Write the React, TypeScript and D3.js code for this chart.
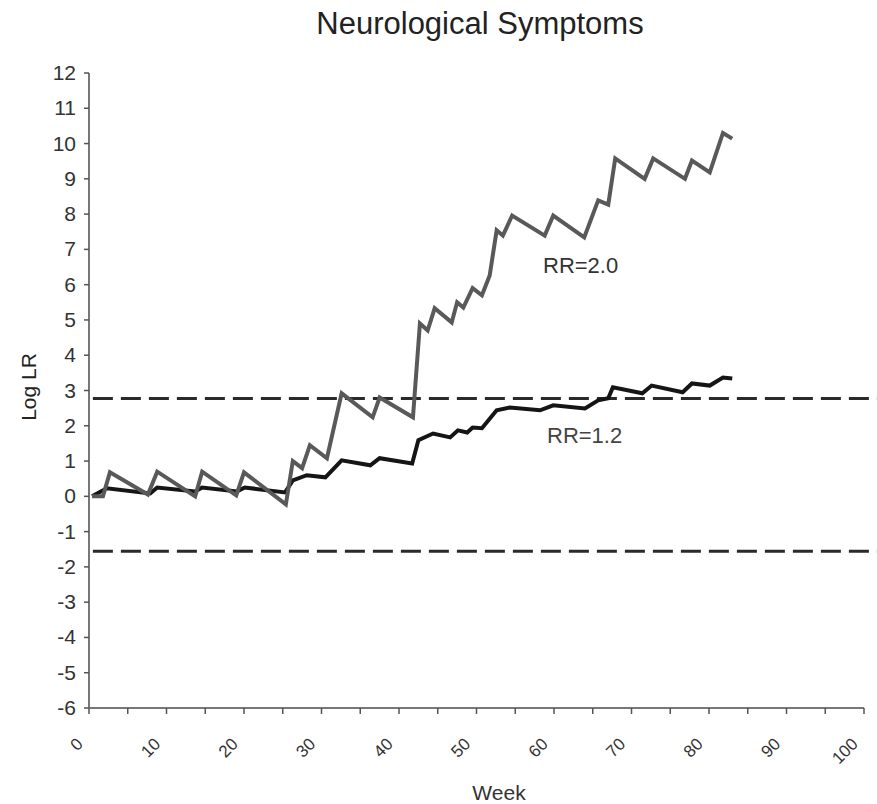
import React, { useRef, useEffect } from 'react';
import * as d3 from 'd3';

// RR=2.0 series (week, log LR)
const weeksRR20 = [0.4, 1.8, 2.7, 7.6, 8.8, 13.7, 14.6, 19.0, 20.0, 25.4, 26.3, 27.5, 28.5, 30.7, 32.6, 36.6, 37.5, 41.8, 42.7, 43.7, 44.6, 46.8, 47.5, 48.3, 49.5, 50.7, 51.7, 52.6, 53.4, 54.6, 58.8, 59.9, 63.9, 65.7, 67.0, 67.9, 71.7, 72.8, 76.9, 77.8, 80.1, 81.8, 83.0];
const valuesRR20 = [0, 0, 0.68, 0.05, 0.7, 0, 0.7, 0.03, 0.68, -0.23, 1.0, 0.8, 1.45, 1.08, 2.92, 2.24, 2.8, 2.24, 4.9, 4.7, 5.33, 4.93, 5.5, 5.35, 5.9, 5.7, 6.26, 7.54, 7.39, 7.96, 7.39, 7.96, 7.34, 8.39, 8.27, 9.58, 9.0, 9.58, 9.0, 9.52, 9.18, 10.3, 10.14];

// RR=1.2 series
const weeksRR12 = [0.4, 2.3, 7.9, 8.8, 13.7, 14.6, 19.1, 20.1, 25.3, 26.3, 28.1, 30.5, 32.6, 36.3, 37.5, 41.7, 42.5, 44.4, 46.6, 47.6, 48.8, 49.5, 50.7, 52.6, 54.3, 58.2, 59.9, 64.0, 65.7, 67.0, 67.6, 71.4, 72.6, 76.6, 77.8, 80.1, 81.8, 83.0];
const valuesRR12 = [0, 0.23, 0.08, 0.25, 0.14, 0.25, 0.14, 0.25, 0.11, 0.45, 0.6, 0.54, 1.02, 0.88, 1.08, 0.93, 1.59, 1.78, 1.67, 1.87, 1.81, 1.95, 1.93, 2.44, 2.52, 2.44, 2.58, 2.49, 2.72, 2.78, 3.09, 2.92, 3.14, 2.95, 3.2, 3.14, 3.37, 3.34];

// decision boundaries
const boundaries = [2.77, -1.56];

const yTicks = d3.range(-6, 13, 1);
const xTicks = d3.range(0, 101, 5);
const xLabels = d3.range(0, 101, 10);

export default function App() {
  const ref = useRef<SVGSVGElement>(null);
  const width = 877;
  const height = 804;

  useEffect(() => {
    const svg = d3.select(ref.current);
    svg.selectAll('*').remove();
    svg.attr('width', width).attr('height', height)
      .style('background', '#fff')
      .style('font-family', '"Liberation Sans", Arial, sans-serif');

    const x = d3.scaleLinear().domain([0, 100]).range([89, 864]);
    const y = d3.scaleLinear().domain([-6, 12]).range([708, 73]);
    const axisColor = '#777';

    // title
    svg.append('text')
      .attr('x', 480).attr('y', 34)
      .attr('text-anchor', 'middle')
      .attr('fill', '#222')
      .style('font-size', '31px')
      .text('Neurological Symptoms');

    //---------- y axis ----------//
    svg.append('line')
      .attr('x1', x(0)).attr('x2', x(0))
      .attr('y1', y(12)).attr('y2', y(-6))
      .attr('stroke', axisColor).attr('stroke-width', 2);

    svg.append('g').selectAll('line')
      .data(yTicks).join('line')
      .attr('x1', x(0) - 5).attr('x2', x(0))
      .attr('y1', d => y(d)).attr('y2', d => y(d))
      .attr('stroke', '#555').attr('stroke-width', 1.5);

    svg.append('g').selectAll('text')
      .data(yTicks).join('text')
      .attr('x', x(0) - 13)
      .attr('y', d => y(d) + 7)
      .attr('text-anchor', 'end')
      .attr('fill', '#333')
      .style('font-size', '21px')
      .text(d => d);

    svg.append('text')
      .attr('transform', `translate(36,${y(3.1)}) rotate(-90)`)
      .attr('text-anchor', 'middle')
      .attr('fill', '#222')
      .style('font-size', '21px')
      .text('Log LR');

    //---------- x axis ----------//
    svg.append('line')
      .attr('x1', x(0)).attr('x2', x(100))
      .attr('y1', y(-6)).attr('y2', y(-6))
      .attr('stroke', axisColor).attr('stroke-width', 2);

    svg.append('g').selectAll('line')
      .data(xTicks).join('line')
      .attr('x1', d => x(d)).attr('x2', d => x(d))
      .attr('y1', y(-6)).attr('y2', y(-6) + 6)
      .attr('stroke', '#555').attr('stroke-width', 1.5);

    svg.append('g').selectAll('text')
      .data(xLabels).join('text')
      .attr('transform', d => `translate(${x(d) - 5},${y(-6) + 37}) rotate(-45)`)
      .attr('text-anchor', 'end')
      .attr('fill', '#333')
      .style('font-size', '17px')
      .text(d => d);

    svg.append('text')
      .attr('x', 499).attr('y', 800)
      .attr('text-anchor', 'middle')
      .attr('fill', '#333')
      .style('font-size', '21px')
      .text('Week');

    //---------- boundaries ----------//
    svg.append('g').selectAll('line')
      .data(boundaries).join('line')
      .attr('x1', x(0.5)).attr('x2', x(102))
      .attr('y1', d => y(d)).attr('y2', d => y(d))
      .attr('stroke', '#2a2a2a').attr('stroke-width', 3)
      .attr('stroke-dasharray', '20 8');

    //---------- series ----------//
    const line = d3.line<[number, number]>()
      .x(d => x(d[0]))
      .y(d => y(d[1]));

    svg.append('path')
      .datum(d3.zip(weeksRR12, valuesRR12) as [number, number][])
      .attr('d', line)
      .attr('fill', 'none')
      .attr('stroke', '#151515')
      .attr('stroke-width', 4)
      .attr('stroke-linejoin', 'miter');

    svg.append('path')
      .datum(d3.zip(weeksRR20, valuesRR20) as [number, number][])
      .attr('d', line)
      .attr('fill', 'none')
      .attr('stroke', '#595959')
      .attr('stroke-width', 4)
      .attr('stroke-linejoin', 'miter');

    // series labels
    svg.append('text')
      .attr('x', 543).attr('y', 273)
      .attr('fill', '#333')
      .style('font-size', '22px')
      .text('RR=2.0');

    svg.append('text')
      .attr('x', 547).attr('y', 443)
      .attr('fill', '#444')
      .style('font-size', '22px')
      .text('RR=1.2');
  }, []);

  return (
    <svg ref={ref} style={{ position: 'absolute', left: 0, top: 0 }}></svg>
  );
}
